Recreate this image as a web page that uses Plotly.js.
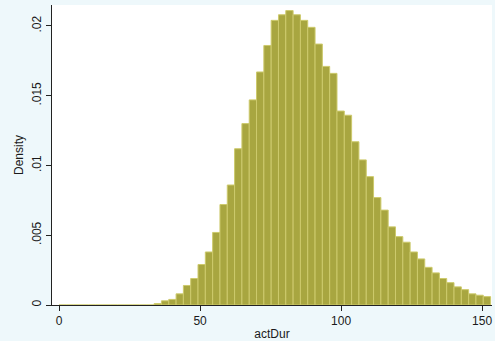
<!DOCTYPE html>
<html>
<head>
<meta charset="utf-8">
<script src="https://cdn.plot.ly/plotly-3.0.1.min.js"></script>
<style>html,body{margin:0;padding:0;background:#eef8fb;}#chart{width:495px;height:341px;}</style>
</head>
<body>
<div id="chart"></div>
<script>
// Histogram of actDur (density), bins start at 0
const binStart = 0;
const binWidth = 153 / 59;
const density = [
  0, 0, 0, 0, 0, 0, 0, 0, 0, 0, 0, 0, 0,
  0.0001, 0.0003, 0.0004, 0.0008, 0.0014, 0.0019, 0.0029, 0.0038, 0.0052, 0.0072,
  0.0086, 0.0112, 0.0130, 0.0147, 0.0167, 0.0186, 0.0204, 0.0208, 0.0211, 0.0208,
  0.0204, 0.0199, 0.0187, 0.0171, 0.0166, 0.0139, 0.0136, 0.0117, 0.0104, 0.0092,
  0.0077, 0.0068, 0.0056, 0.0049, 0.0045, 0.0038, 0.0033, 0.0027, 0.0023, 0.0019,
  0.0016, 0.0013, 0.0011, 0.0008, 0.0007, 0.0006
];
const xTickVals = [0, 50, 100, 150];
const xTickText = ['0', '50', '100', '150'];
const yTickVals = [0, 0.005, 0.01, 0.015, 0.02];
const yTickText = ['0', '.005', '.01', '.015', '.02'];

const binCenters = density.map((_, i) => binStart + (i + 0.5) * binWidth);

const trace = {
  type: 'bar',
  x: binCenters,
  y: density,
  width: binWidth,
  marker: {color: '#a8a640', line: {color: '#cdca6c', width: 1}},
  hoverinfo: 'x+y'
};

const font = {family: 'Liberation Sans, Arial, sans-serif', size: 12, color: '#1a1a1a'};

const layout = {
  width: 495, height: 341,
  margin: {l: 52, r: 3, t: 5, b: 36},
  paper_bgcolor: '#eef8fb',
  plot_bgcolor: '#ffffff',
  showlegend: false,
  bargap: 0,
  font: font,
  xaxis: {
    range: [-2.5, 153.5],
    tickvals: xTickVals, ticktext: xTickText,
    ticks: 'outside', ticklen: 5, tickcolor: '#222', tickwidth: 1,
    showline: true, linecolor: '#222', linewidth: 1,
    showgrid: false, zeroline: false,
    tickfont: {family: font.family, size: 12, color: '#1a1a1a'},
    title: {text: 'actDur', font: {family: font.family, size: 12, color: '#1a1a1a'}, standoff: 4}
  },
  yaxis: {
    range: [0, 0.0215],
    tickvals: yTickVals, ticktext: yTickText,
    tickangle: -90,
    ticks: 'outside', ticklen: 5, tickcolor: '#222', tickwidth: 1,
    showline: true, linecolor: '#222', linewidth: 1,
    showgrid: false, zeroline: false,
    tickfont: {family: font.family, size: 12, color: '#1a1a1a'},
    title: {text: 'Density', font: {family: font.family, size: 12, color: '#1a1a1a'}, standoff: 4}
  }
};

Plotly.newPlot('chart', [trace], layout, {displayModeBar: false, staticPlot: true});
</script>
</body>
</html>
